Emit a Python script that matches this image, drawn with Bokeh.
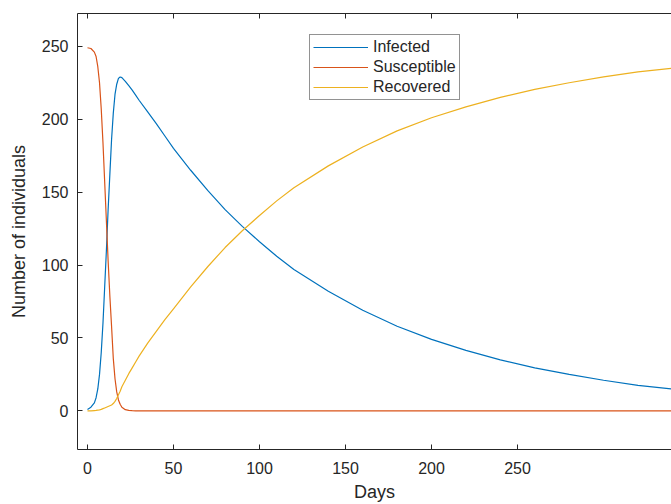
from bokeh.plotting import figure
from bokeh.models import ColumnDataSource, Range1d, LinearAxis, FixedTicker, Legend, LegendItem
from bokeh.embed import file_html
from bokeh.resources import INLINE

days = [0, 2, 4, 5, 6, 7, 8, 9, 10, 11, 12, 13, 14, 15, 16, 17, 18, 19, 20, 22, 24, 26, 28,
        30, 35, 40, 45, 50, 60, 70, 80, 90, 100, 110, 120, 140, 160, 180, 200, 220, 240,
        260, 280, 300, 320, 340]
infected = [1, 2.5, 5.5, 9, 15, 25, 40, 60, 85, 110, 138, 162, 186, 204, 217, 224, 228, 229,
            228.5, 226, 223, 220, 216.5, 213, 205, 197, 188.5, 180, 165, 151, 138, 126.5, 116,
            106, 97, 82, 69, 58, 49, 41.5, 35, 29.5, 25, 21, 17.5, 15]
susceptible = [249, 248.5, 246, 243, 236, 225, 207, 184, 157, 130, 103, 79, 58, 36, 22, 13,
               7.5, 4.5, 2.5, 0.8, 0.3, 0.1, 0, 0, 0, 0, 0, 0, 0, 0, 0, 0, 0, 0, 0, 0, 0, 0,
               0, 0, 0, 0, 0, 0, 0, 0]
recovered = [0, 0, 0.2, 0.3, 0.5, 0.7, 1, 1.5, 2, 2.5, 3, 3.5, 4, 5, 6.5, 8.5, 11, 13.5,
             16.5, 21, 25.5, 29.5, 33.5, 37.5, 46.5, 54.5, 62.5, 70, 85, 99, 112, 123.5, 134,
             144, 153, 168, 181, 192, 201, 208.5, 215, 220.5, 225, 229, 232.5, 235]
x_ticks = [0, 50, 100, 150, 200, 250]
y_ticks = [0, 50, 100, 150, 200, 250]
x_label = "Days"
y_label = "Number of individuals"
series_names = ["Infected", "Susceptible", "Recovered"]
colors = ["#0072BD", "#D95319", "#EDB120"]

src = ColumnDataSource(dict(days=days, infected=infected, susceptible=susceptible,
                            recovered=recovered))

FONT = "Liberation Sans"
INK = "#262626"

p = figure(width=671, height=504, output_backend="svg", toolbar_location=None,
           x_range=Range1d(-5.8, 339.5), y_range=Range1d(-26.5, 272.5),
           min_border_left=77, min_border_right=0, min_border_top=13, min_border_bottom=54)
p.xgrid.visible = False
p.ygrid.visible = False
p.outline_line_color = None
p.background_fill_color = "white"
p.border_fill_color = "white"

for ax, ticks in ((p.xaxis[0], x_ticks), (p.yaxis[0], y_ticks)):
    ax.ticker = FixedTicker(ticks=ticks)
    ax.major_tick_in = 5
    ax.major_tick_out = 0
    ax.minor_tick_line_color = None
    ax.axis_line_color = INK
    ax.major_tick_line_color = INK
    ax.major_label_text_font = FONT
    ax.major_label_text_font_size = "16px"
    ax.major_label_text_color = INK
    ax.axis_label_text_font = FONT
    ax.axis_label_text_font_size = "18px"
    ax.axis_label_text_font_style = "normal"
    ax.axis_label_text_color = INK

p.xaxis[0].axis_label = x_label
p.yaxis[0].axis_label = y_label
p.xaxis[0].major_label_standoff = 12
p.xaxis[0].axis_label_standoff = 5
p.yaxis[0].major_label_standoff = 9
p.yaxis[0].axis_label_standoff = 10

top = LinearAxis(ticker=FixedTicker(ticks=x_ticks), major_tick_in=5, major_tick_out=0,
                 minor_tick_line_color=None, axis_line_color=INK, major_tick_line_color=INK,
                 major_label_overrides={t: "" for t in x_ticks}, major_label_standoff=0)
p.add_layout(top, "above")

r_i = p.line("days", "infected", source=src, line_color=colors[0], line_width=1.2)
r_s = p.line("days", "susceptible", source=src, line_color=colors[1], line_width=1.2)
r_r = p.line("days", "recovered", source=src, line_color=colors[2], line_width=1.2)

legend = Legend(items=[LegendItem(label=series_names[0], renderers=[r_i]),
                       LegendItem(label=series_names[1], renderers=[r_s]),
                       LegendItem(label=series_names[2], renderers=[r_r])],
                location=(232, 349))
legend.label_text_font = FONT
legend.label_text_font_size = "16px"
legend.label_text_color = INK
legend.border_line_color = INK
legend.border_line_width = 1
legend.background_fill_alpha = 1
legend.padding = 3
legend.spacing = 2
legend.label_height = 18
legend.glyph_height = 18
legend.glyph_width = 55
legend.label_standoff = 5
legend.margin = 0
p.add_layout(legend)

open("out.html", "w").write(file_html(p, INLINE))
